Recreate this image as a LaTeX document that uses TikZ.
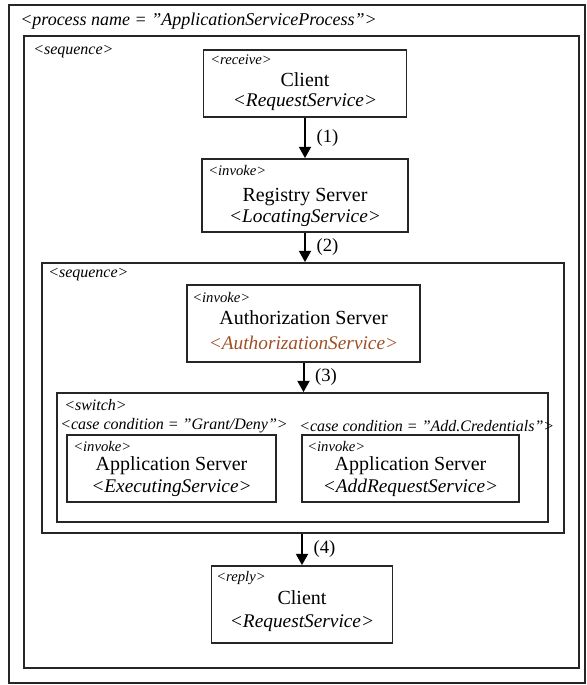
\documentclass[tikz,border=0pt]{standalone}
\usepackage{fontspec}
\setmainfont{Liberation Serif}
\usetikzlibrary{arrows.meta}
\definecolor{authbrown}{RGB}{160,78,36}

\begin{document}
\begin{tikzpicture}[x=0.75pt,y=-0.75pt,
        frame/.style={draw=black!85,line width=1.3pt,rectangle,inner sep=0pt},
        titletext/.style={font=\fontsize{13.5}{15}\selectfont\itshape,inner sep=0pt,anchor=west},
        grouptext/.style={font=\fontsize{12}{14}\selectfont\itshape,inner sep=0pt,anchor=west},
        tagtext/.style={font=\fontsize{11}{13}\selectfont\itshape,inner sep=0pt,anchor=west},
        nametext/.style={font=\fontsize{15}{17}\selectfont,inner sep=0pt},
        svctext/.style={font=\fontsize{14.5}{17}\selectfont\itshape,inner sep=0pt},
        flow/.style={line width=1.5pt,-{Triangle[length=8.5pt,width=9pt]}},
        steplabel/.style={font=\fontsize{14}{16}\selectfont,anchor=west,inner sep=0pt,xshift=8pt}]
        \useasboundingbox (0,0) rectangle (586,685);

        % containers
        \node[frame,minimum width=432pt,minimum height=508.5pt] (process) at (297,344) {};
        \node[frame,minimum width=416.25pt,minimum height=474pt] (seqa) at (301.5,352) {};
        \node[frame,minimum width=391.5pt,minimum height=202.5pt] (seqb) at (303,398) {};
        \node[frame,minimum width=368.25pt,minimum height=96.75pt] (switch) at (302.5,457.5) {};

        \node[titletext] (processname) at (20,21) {<process name = "ApplicationServiceProcess">};
        \node[grouptext] (seqalabel) at (33,52) {<sequence>};
        \node[grouptext] (seqblabel) at (48,275) {<sequence>};
        \node[grouptext] (switchlabel) at (64,405) {<switch>};
        \node[grouptext] (caseone) at (60,426) {<case condition = "Grant/Deny">};
        \node[grouptext] (casetwo) at (299,426) {<case condition = "Add.Credentials">};

        % activities
        \node[frame,minimum width=152.25pt,minimum height=50.25pt] (recv) at (305,83.5) {};
        \node[tagtext] (recvtag) at (210,60) {<receive>};
        \node[nametext] (recvname) at (305,80) {Client};
        \node[svctext] (recvsvc) at (305,102) {<RequestService>};

        \node[frame,minimum width=154.5pt,minimum height=54.75pt] (reg) at (305,195.5) {};
        \node[tagtext] (regtag) at (208,170) {<invoke>};
        \node[nametext] (regname) at (305,197) {Registry Server};
        \node[svctext] (regsvc) at (305,218) {<LocatingService>};

        \node[frame,minimum width=174.75pt,minimum height=57.75pt] (auth) at (303.5,323.5) {};
        \node[tagtext] (authtag) at (192,297) {<invoke>};
        \node[nametext] (authname) at (303.5,318) {Authorization Server};
        \node[svctext,text=authbrown] (authsvc) at (303.5,343) {<AuthorizationService>};

        \node[frame,minimum width=156.75pt,minimum height=50.25pt] (appl) at (171.5,468.5) {};
        \node[tagtext] (appltag) at (73,446) {<invoke>};
        \node[nametext] (applname) at (171.5,466) {Application Server};
        \node[svctext] (applsvc) at (171.5,488) {<ExecutingService>};

        \node[frame,minimum width=162.75pt,minimum height=50.25pt] (appr) at (410.5,468.5) {};
        \node[tagtext] (apprtag) at (307,446) {<invoke>};
        \node[nametext] (apprname) at (410.5,466) {Application Server};
        \node[svctext] (apprsvc) at (410.5,488) {<AddRequestService>};

        \node[frame,minimum width=135.75pt,minimum height=57.75pt] (reply) at (302,604.5) {};
        \node[tagtext] (replytag) at (216,578) {<reply>};
        \node[nametext] (replyname) at (302,598) {Client};
        \node[svctext] (replysvc) at (302,623) {<RequestService>};

        % flow
        \draw[flow] (recv.south) -- (recv.south |- reg.north) node[steplabel,midway] (stepone) {(1)};
        \draw[flow] (reg.south) -- (reg.south |- seqb.north) node[steplabel,midway] (steptwo) {(2)};
        \draw[flow] (auth.south) -- (auth.south |- switch.north) node[steplabel,midway] (stepthree) {(3)};
        \draw[flow] (reply.north |- seqb.south) -- (reply.north) node[steplabel,midway] (stepfour) {(4)};
    \end{tikzpicture}
\end{document}
